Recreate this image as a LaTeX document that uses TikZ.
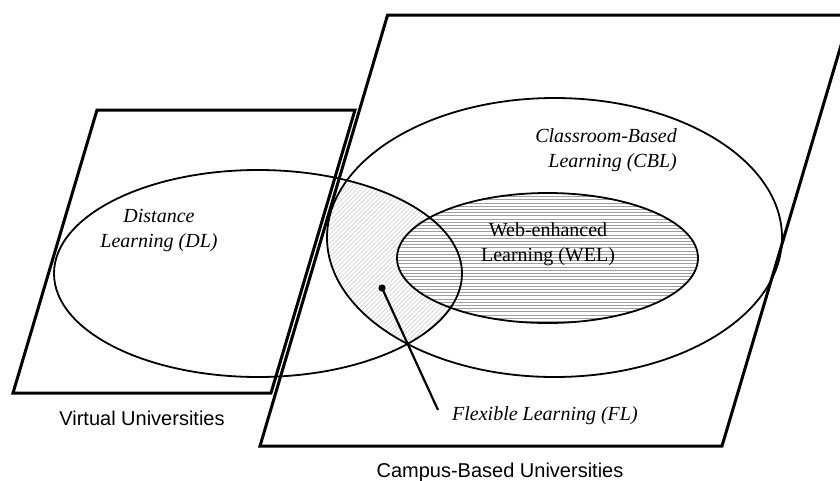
\documentclass[tikz,border=0pt]{standalone}
\usepackage{fontspec}
\setmainfont{Liberation Serif}
\setsansfont{Liberation Sans}
\begin{document}
\begin{tikzpicture}[x=1pt,y=-1pt,
  frame/.style={line width=3pt, line join=miter},
  oval/.style={line width=1.8pt},
  flhatch/.style={line width=0.7pt, gray!35},
  welhatch/.style={line width=0.6pt, gray!75},
  txt/.style={inner sep=0pt, font=\fontsize{20}{25}\selectfont},
  ittxt/.style={txt, font=\fontsize{20}{25}\selectfont\itshape},
  sanstxt/.style={inner sep=0pt, font=\fontsize{20}{24}\selectfont\sffamily},
  pointer/.style={line width=2.2pt}
]
\useasboundingbox (0,0) rectangle (840,480);

% Flexible learning hatch: DL intersect CBL
\begin{scope}
  \clip (258,273.5) ellipse [x radius=204pt, y radius=103.5pt];
  \clip (554.5,237.5) ellipse [x radius=227.5pt, y radius=139.5pt];
  \foreach \x in {0,4.5,...,520} \draw[flhatch] (\x,420) -- ++(300,-300);
\end{scope}

% Web-enhanced learning
\fill[white] (547.5,258) ellipse [x radius=150.5pt, y radius=65pt];
\begin{scope}
  \clip (547.5,258) ellipse [x radius=150.5pt, y radius=65pt];
  \foreach \y in {190,193.2,...,328} \draw[welhatch] (390,\y) -- (705,\y);
\end{scope}

% ellipse outlines
\draw[oval] (258,273.5) ellipse [x radius=204pt, y radius=103.5pt];
\draw[oval] (554.5,237.5) ellipse [x radius=227.5pt, y radius=139.5pt];
\draw[oval] (547.5,258) ellipse [x radius=150.5pt, y radius=65pt];

% parallelograms
\draw[frame] (97,110) -- (355,110) -- (271,393) -- (13,393) -- cycle;
\draw[frame] (387.6,15) -- (850,15) -- (722,446) -- (260,446) -- cycle;

% labels
\node[ittxt, align=center] (dl) at (159,230.6) {Distance\\Learning (DL)};
\node[ittxt, align=right, anchor=east] (cbl) at (677,150.6) {Classroom-Based\\Learning (CBL)};
\node[txt, align=center] (wel) at (548,244.6) {Web-enhanced\\Learning (WEL)};
\node[ittxt, anchor=base west] (fl) at (452,420) {Flexible Learning (FL)};
\node[sanstxt, anchor=base] (vu) at (142,425) {Virtual Universities};
\node[sanstxt, anchor=base] (cbu) at (500,477) {Campus-Based Universities};

% pointer
\coordinate (dot) at (382,288);
\coordinate (flend) at (438,410);
\fill (dot) circle [radius=3.6pt];
\draw[pointer] (dot) -- (flend);
\end{tikzpicture}
\end{document}
